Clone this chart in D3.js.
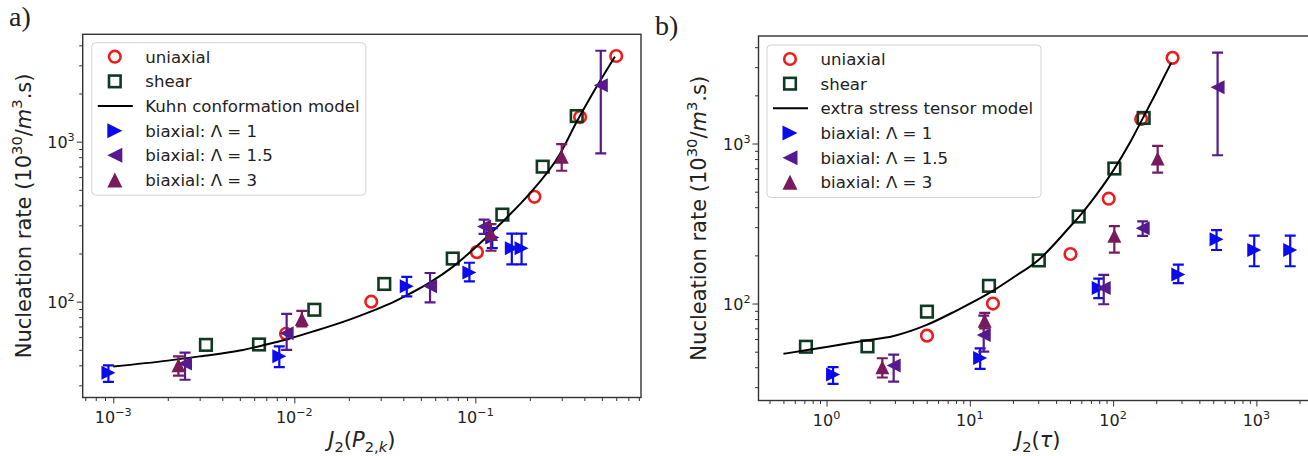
<!DOCTYPE html>
<html><head><meta charset="utf-8">
<script src="https://cdn.jsdelivr.net/npm/d3@7"></script>
<style>
body{margin:0;background:#fff}
svg{display:block}
text{font-family:"DejaVu Sans",sans-serif;fill:#222}
</style>
</head><body>
<svg id="c" width="1308" height="456"></svg>
<script>
// ---------------- data ----------------
// nucleation rate values (10^30 / m^3.s), shared by both panels
const uniaxialRate = [63, 100, 204, 452, 1425, 3430];
const uniaxialJ2P  = [0.009, 0.0266, 0.102, 0.212, 0.379, 0.60];
const uniaxialJ2Tau = [5.02, 14.5, 50.4, 93.2, 157, 260];

const shearRate = [53.7, 54, 89, 129, 186, 350, 698, 1445];
const shearJ2P  = [0.00325, 0.00638, 0.0129, 0.0314, 0.075, 0.141, 0.2355, 0.363];
const shearJ2Tau = [0.718, 1.93, 5.02, 13.6, 30.3, 57.5, 102, 163.4];

const biax1Rate = [36, 45.6, 125, 152, 252, 216, 216];
const biax1Lo   = [31.5, 39, 108, 134, 216, 171, 171];
const biax1Hi   = [40, 52.5, 143, 175, 288, 266, 266];
const biax1J2P  = [0.00094, 0.00826, 0.0418, 0.0927, 0.124, 0.159, 0.18];
const biax1J2Tau = [1.11, 11.8, 79.4, 285, 527, 966, 1722];

const biax15Rate = [41, 63.5, 125, 295, 2250];
const biax15Lo   = [32.5, 50, 99, 265, 845];
const biax15Hi   = [48, 84, 151, 326, 3700];
const biax15J2P  = [0.00249, 0.00907, 0.0562, 0.1117, 0.493];
const biax15J2Tau = [2.94, 12.5, 86, 160.8, 536];

const biax3Rate = [40, 78, 265, 805];
const biax3Lo   = [34.5, 70, 208, 658];
const biax3Hi   = [45.5, 87.5, 305, 966];
const biax3J2P  = [0.00229, 0.011, 0.122, 0.30];
const biax3J2Tau = [2.45, 12.7, 102, 204.6];

const kuhnJ2P  = [0.001, 0.002, 0.003, 0.005, 0.007, 0.009, 0.0129, 0.02, 0.0266, 0.035, 0.044, 0.0562, 0.075, 0.1, 0.141, 0.2, 0.29, 0.363, 0.45, 0.59];
const kuhnRate = [39.3, 42.8, 45.5, 49.5, 54, 58, 65.5, 77, 87, 99, 113, 132, 165, 218, 315, 475, 820, 1330, 2050, 3400];

const stressJ2Tau = [0.5, 0.718, 1.0, 1.93, 2.9, 5.0, 8, 13.6, 20, 30.3, 50, 57.5, 75, 93, 102, 130, 163, 200, 254];
const stressRate  = [48.5, 51, 53.5, 59, 62.5, 73.5, 90, 116, 145, 188, 302, 347, 468, 612, 694, 999, 1467, 2086, 3190];

const majorExpA_x = [-3, -2, -1];
const majorExpB_x = [0, 1, 2, 3];
const majorExp_y = [2, 3];
const legendLabelsA = ["uniaxial", "shear", "Kuhn conformation model", "biaxial: \u039b = 1", "biaxial: \u039b = 1.5", "biaxial: \u039b = 3"];
const legendLabelsB = ["uniaxial", "shear", "extra stress tensor model", "biaxial: \u039b = 1", "biaxial: \u039b = 1.5", "biaxial: \u039b = 3"];

// ---------------- style ----------------
const C = {red:"#ee1c1c", green:"#0e3a22", blue:"#0a0aee", purple:"#561a8e", maroon:"#781a5c"};
const svg = d3.select("#c");

function runs(sel, parts, fs){
  let cur = 0;
  parts.forEach(p=>{
    const target = p.sup ? -0.45*fs : p.sub ? 0.25*fs : 0;
    const ts = sel.append("tspan").attr("dy", target - cur).text(p.t);
    cur = target;
    if (p.sup || p.sub) ts.attr("font-size", fs*0.7);
    if (p.it) ts.attr("font-style", "italic");
  });
}
function expParts(e){ return [{t:"10"},{t:(e<0?"\u2212"+(-e):""+e), sup:true}]; }

const triPath = {
  right: r => `M${r},0L${-r},${-r}L${-r},${r}Z`,
  left:  r => `M${-r},0L${r},${-r}L${r},${r}Z`,
  up:    r => `M0,${-r}L${r},${r}L${-r},${r}Z`
};

function drawPanel(cfg, idx){
  const x = cfg.x, y = cfg.y;
  const [x0,x1] = x.range(), [y0,y1] = y.range();
  const g = svg.append("g");
  const clipId = "clip"+idx;
  svg.append("clipPath").attr("id", clipId).append("rect")
    .attr("x", x0).attr("y", y1).attr("width", x1-x0).attr("height", y0-y1);
  const plot = g.append("g").attr("clip-path", `url(#${clipId})`);

  // uniaxial circles
  plot.selectAll(null).data(uniaxialRate).join("circle")
    .attr("cx", (d,i)=>x(cfg.ux[i])).attr("cy", d=>y(d)).attr("r", 5.8)
    .attr("fill","none").attr("stroke",C.red).attr("stroke-width",2.6);
  // shear squares
  plot.selectAll(null).data(shearRate).join("rect")
    .attr("x", (d,i)=>x(cfg.sx[i])-5.8).attr("y", d=>y(d)-5.8).attr("width",11.6).attr("height",11.6)
    .attr("fill","none").attr("stroke",C.green).attr("stroke-width",2.6);
  // model line
  plot.append("path").datum(cfg.my)
    .attr("d", d3.line().x((d,i)=>x(cfg.mx[i])).y(d=>y(d)).curve(d3.curveMonotoneX))
    .attr("fill","none").attr("stroke","#000").attr("stroke-width",2);

  function series(rate, lo, hi, xs, col, shape){
    const sg = plot.append("g");
    rate.forEach((d,i)=>{
      const cx = x(xs[i]);
      sg.append("line").attr("x1",cx).attr("x2",cx).attr("y1",y(lo[i])).attr("y2",y(hi[i]))
        .attr("stroke",col).attr("stroke-width",2.2);
      [lo[i],hi[i]].forEach(v=>sg.append("line").attr("x1",cx-5.5).attr("x2",cx+5.5)
        .attr("y1",y(v)).attr("y2",y(v)).attr("stroke",col).attr("stroke-width",2.2));
      sg.append("path").attr("d", triPath[shape](7))
        .attr("transform",`translate(${cx},${y(d)})`).attr("fill",col);
    });
  }
  series(biax1Rate, biax1Lo, biax1Hi, cfg.b1x, C.blue, "right");
  series(biax15Rate, biax15Lo, biax15Hi, cfg.b15x, C.purple, "left");
  series(biax3Rate, biax3Lo, biax3Hi, cfg.b3x, C.maroon, "up");

  // axes ticks
  const [dx0,dx1] = x.domain(), [dy0,dy1] = y.domain();
  const minorX = [], minorY = [];
  for (let e=Math.floor(Math.log10(dx0)); e<=Math.ceil(Math.log10(dx1)); e++)
    for (let k=2;k<=9;k++){ const v=k*Math.pow(10,e); if(v>=dx0&&v<=dx1) minorX.push(v); }
  for (let e=Math.floor(Math.log10(dy0)); e<=Math.ceil(Math.log10(dy1)); e++)
    for (let k=2;k<=9;k++){ const v=k*Math.pow(10,e); if(v>=dy0&&v<=dy1) minorY.push(v); }
  const majX = cfg.majX.map(e=>Math.pow(10,e)), majY = majorExp_y.map(e=>Math.pow(10,e));

  const ax = g.append("g").attr("transform",`translate(0,${y0})`);
  ax.call(d3.axisBottom(x).tickValues(majX).tickSize(6).tickFormat(""));
  ax.append("g").call(d3.axisBottom(x).tickValues(minorX).tickSize(3.5).tickFormat(""));
  const ay = g.append("g").attr("transform",`translate(${x0},0)`);
  ay.call(d3.axisLeft(y).tickValues(majY).tickSize(6).tickFormat(""));
  ay.append("g").call(d3.axisLeft(y).tickValues(minorY).tickSize(3.5).tickFormat(""));
  g.selectAll(".domain").remove();
  g.selectAll(".tick line").attr("stroke","#333").attr("stroke-width",1);

  cfg.majX.forEach(e=>{
    const t = g.append("text").attr("x", x(Math.pow(10,e))).attr("y", y0+25.5)
      .attr("text-anchor","middle").attr("font-size",16);
    runs(t, expParts(e), 16);
  });
  majorExp_y.forEach(e=>{
    const t = g.append("text").attr("x", x0-8).attr("y", y(Math.pow(10,e))+6.5)
      .attr("text-anchor","end").attr("font-size",16);
    runs(t, expParts(e), 16);
  });

  // frame
  g.append("rect").attr("x",x0).attr("y",y1).attr("width",x1-x0).attr("height",y0-y1)
    .attr("fill","none").attr("stroke","#333").attr("stroke-width",1.4);

  // axis labels
  const xl = g.append("text").attr("x",(x0+Math.min(x1,1318))/2).attr("y",446.5)
    .attr("text-anchor","middle").attr("font-size",21);
  runs(xl, cfg.xlab, 21);
  const yl = g.append("text").attr("transform",`translate(${cfg.ylabX},${(y0+y1)/2}) rotate(-90)`)
    .attr("text-anchor","middle").attr("font-size",21);
  runs(yl, [{t:"Nucleation rate (10"},{t:"30",sup:true},{t:"/"},{t:"m",it:true},{t:"3",sup:true},{t:".s)"}], 21);

  // panel tag
  g.append("text").attr("x",cfg.tag[1]).attr("y",cfg.tag[2]).attr("font-size",28)
    .style("font-family","'Liberation Serif',serif").text(cfg.tag[0]);

  // legend
  const [lx,ly] = cfg.legend;
  const lg = g.append("g").attr("transform",`translate(${lx},${ly})`);
  lg.append("rect").attr("width",274).attr("height",152.5).attr("rx",4)
    .attr("fill","#fff").attr("fill-opacity",0.8).attr("stroke","#d4d4d4").attr("stroke-width",1);
  const rowY = i => 14 + 24.66*i;
  lg.append("circle").attr("cx",23).attr("cy",rowY(0)).attr("r",5.8)
    .attr("fill","none").attr("stroke",C.red).attr("stroke-width",2.6);
  lg.append("rect").attr("x",23-5.8).attr("y",rowY(1)-5.8).attr("width",11.6).attr("height",11.6)
    .attr("fill","none").attr("stroke",C.green).attr("stroke-width",2.6);
  lg.append("line").attr("x1",6).attr("x2",41).attr("y1",rowY(2)).attr("y2",rowY(2))
    .attr("stroke","#000").attr("stroke-width",2);
  [["right",C.blue],["left",C.purple],["up",C.maroon]].forEach(([s,c],k)=>{
    lg.append("path").attr("d",triPath[s](7.5)).attr("transform",`translate(23,${rowY(3+k)})`).attr("fill",c);
  });
  cfg.labels.forEach((t,i)=>{
    lg.append("text").attr("x",53.5).attr("y",rowY(i)+6).attr("font-size",16.6).text(t);
  });
}

drawPanel({
  x: d3.scaleLog().domain([Math.pow(10,-3.169), Math.pow(10,-0.085)]).range([82.7, 641]),
  y: d3.scaleLog().domain([Math.pow(10,1.401), Math.pow(10,3.671)]).range([397.5, 34.3]),
  ux: uniaxialJ2P, sx: shearJ2P, b1x: biax1J2P, b15x: biax15J2P, b3x: biax3J2P,
  mx: kuhnJ2P, my: kuhnRate, majX: majorExpA_x, labels: legendLabelsA,
  legend: [91.8, 42.7], tag: ["a)", 9, 26], ylabX: 31,
  xlab: [{t:"J",it:true},{t:"2",sub:true},{t:"("},{t:"P",it:true},{t:"2,",sub:true},{t:"k",sub:true,it:true},{t:")"}]
}, 0);

drawPanel({
  x: d3.scaleLog().domain([Math.pow(10,-0.475), Math.pow(10,3.43)]).range([758.5, 1318]),
  y: d3.scaleLog().domain([Math.pow(10,1.394), Math.pow(10,3.672)]).range([400.5, 36]),
  ux: uniaxialJ2Tau, sx: shearJ2Tau, b1x: biax1J2Tau, b15x: biax15J2Tau, b3x: biax3J2Tau,
  mx: stressJ2Tau, my: stressRate, majX: majorExpB_x, labels: legendLabelsB,
  legend: [767, 45], tag: ["b)", 655, 35], ylabX: 706,
  xlab: [{t:"J",it:true},{t:"2",sub:true},{t:"("},{t:"\u03c4",it:true},{t:")"}]
}, 1);
</script>
</body></html>
